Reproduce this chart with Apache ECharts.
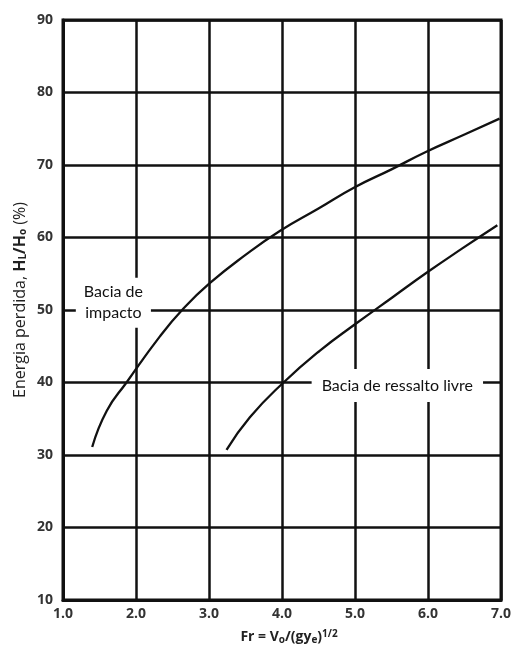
<!DOCTYPE html>
<html>
<head>
<meta charset="utf-8">
<script src="https://cdn.jsdelivr.net/npm/echarts@6/dist/echarts.min.js"></script>
<style>
  html, body { margin: 0; padding: 0; background: #fff; }
  #chart { width: 514px; height: 654px; }
</style>
</head>
<body>
<div id="chart"></div>
<script>
// Energia perdida (%) em função do número de Froude
const impactoFr = [1.40, 1.60, 1.87, 2.33, 2.65, 3.01, 3.50, 3.97, 4.50, 4.99, 5.50, 5.97, 6.50, 6.98];
const impactoE  = [31.1, 36.1, 40.0, 46.4, 50.2, 53.7, 57.6, 60.9, 64.0, 66.9, 69.4, 71.8, 74.2, 76.4];

const livreFr = [3.24, 3.56, 4.01, 4.52, 5.01, 5.52, 5.99, 6.47, 6.95];
const livreE  = [30.7, 35.2, 39.9, 44.4, 48.1, 51.8, 55.2, 58.5, 61.7];

const xTicks = [1, 2, 3, 4, 5, 6, 7];
const yTicks = [10, 20, 30, 40, 50, 60, 70, 80, 90];

// Rótulos das curvas: texto e posição (Fr, E)
const labelTexts = ['Bacia de\nimpacto', 'Bacia de ressalto livre'];
const labelFr = [1.69, 5.58];
const labelE  = [51.0, 39.6];

const FONT = '"Open Sans", "Liberation Sans", sans-serif';
const LABEL_FONT = 'Lato, "Open Sans", sans-serif';

const pairs = (xs, ys) => xs.map((x, i) => [x, ys[i]]);

const chart = echarts.init(document.getElementById('chart'), null, { renderer: 'canvas' });

const gridLine = { show: true, lineStyle: { color: '#111', width: 2.5 } };

chart.setOption({
  animation: false,
  backgroundColor: '#fff',
  grid: { left: 63, right: 12, top: 20, bottom: 54, show: true, borderColor: '#111', borderWidth: 3, backgroundColor: 'transparent' },
  xAxis: {
    type: 'value',
    min: xTicks[0], max: xTicks[xTicks.length - 1], interval: 1,
    axisLine: { show: true, lineStyle: { color: '#111', width: 3 } },
    axisTick: { show: false },
    splitLine: gridLine,
    axisLabel: { color: '#333', fontFamily: FONT, fontWeight: 'bold', fontSize: 14, margin: 7,
      formatter: v => v.toFixed(1) }
  },
  yAxis: {
    type: 'value',
    min: yTicks[0], max: yTicks[yTicks.length - 1], interval: 10,
    axisLine: { show: true, lineStyle: { color: '#111', width: 3 } },
    axisTick: { show: false },
    splitLine: gridLine,
    axisLabel: { color: '#333', fontFamily: FONT, fontWeight: 'bold', fontSize: 14, margin: 10 }
  },
  series: [
    {
      name: 'Bacia de impacto', type: 'line', smooth: 0.5, symbol: 'none',
      lineStyle: { color: '#111', width: 2.3 },
      data: pairs(impactoFr, impactoE), z: 3
    },
    {
      name: 'Bacia de ressalto livre', type: 'line', smooth: 0.5, symbol: 'none',
      lineStyle: { color: '#111', width: 2.3 },
      data: pairs(livreFr, livreE), z: 3
    },
    {
      name: 'rotulos', type: 'scatter', symbolSize: 0, z: 5,
      itemStyle: { opacity: 1 },
      data: pairs(labelFr, labelE).map((p, i) => ({
        value: p,
        label: {
          show: true, position: 'inside', formatter: labelTexts[i],
          align: 'center', verticalAlign: 'middle',
          color: '#111', fontFamily: LABEL_FONT, fontSize: 16, lineHeight: 21,
          backgroundColor: '#fff',
          padding: i === 0 ? [4, 8, 4, 8] : [6, 10, 6, 10]
        }
      }))
    }
  ],
  graphic: [
    {
      type: 'text', x: 20, y: 300, rotation: Math.PI / 2, z: 10,
      style: {
        text: 'Energia perdida, {b|H}{sub|L}{b|/H}{sub|o} (%)',
        align: 'center', verticalAlign: 'middle',
        fill: '#222', font: '16px ' + FONT,
        rich: {
          b: { fontFamily: FONT, fontSize: 16, fontWeight: 'bold', fill: '#222' },
          sub: { fontFamily: FONT, fontSize: 10, fontWeight: 'bold', fill: '#222', verticalAlign: 'bottom', lineHeight: 17 }
        }
      }
    },
    {
      type: 'text', x: 289, y: 637, z: 10,
      style: {
        text: 'Fr = V{sub|o}/(gy{sub|e}){sup|1/2}',
        align: 'center', verticalAlign: 'middle',
        fill: '#222', font: 'bold 14px ' + FONT,
        rich: {
          sub: { fontFamily: FONT, fontSize: 10, fontWeight: 'bold', fill: '#222', verticalAlign: 'bottom', lineHeight: 16 },
          sup: { fontFamily: FONT, fontSize: 10, fontWeight: 'bold', fill: '#222', verticalAlign: 'top', lineHeight: 16 }
        }
      }
    }
  ]
});
</script>
</body>
</html>
